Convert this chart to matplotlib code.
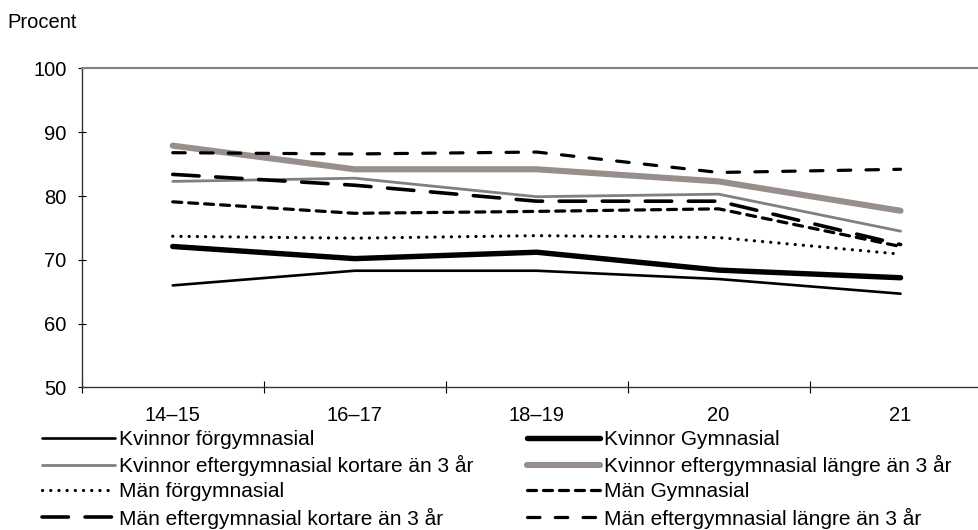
import numpy as np
import matplotlib
matplotlib.use("Agg")
import matplotlib.pyplot as plt
from matplotlib.ticker import FixedLocator

plt.rcParams['font.family'] = ['Liberation Sans', 'DejaVu Sans']
plt.rcParams['lines.scale_dashes'] = False

# Data
ages = ['14–15', '16–17', '18–19', '20', '21']
kvinnor_forgym = [66.0, 68.3, 68.3, 67.0, 64.7]
kvinnor_gym = [72.1, 70.2, 71.2, 68.4, 67.2]
kvinnor_eft_kort = [82.3, 82.8, 79.9, 80.3, 74.5]
kvinnor_eft_lang = [87.9, 84.2, 84.2, 82.3, 77.7]
man_forgym = [73.7, 73.4, 73.8, 73.5, 70.9]
man_gym = [79.1, 77.3, 77.6, 78.0, 72.1]
man_eft_kort = [83.4, 81.7, 79.2, 79.2, 72.4]
man_eft_lang = [86.8, 86.6, 86.9, 83.7, 84.2]

fs = 14.5

fig = plt.figure(figsize=(9.79, 5.30), dpi=100)
ax = fig.add_axes([0.0835, 0.2689, 0.9293, 0.6019])

x = np.arange(len(ages))

l_kf, = ax.plot(x, kvinnor_forgym, color='black', lw=1.9, solid_capstyle='round')
l_kg, = ax.plot(x, kvinnor_gym, color='black', lw=3.9, solid_capstyle='round')
l_kek, = ax.plot(x, kvinnor_eft_kort, color='#808080', lw=2.0, solid_capstyle='round')
l_kel, = ax.plot(x, kvinnor_eft_lang, color='#978f8b', lw=4.4, solid_capstyle='round')
l_mf, = ax.plot(x, man_forgym, color='black', lw=2.3, linestyle=(0, (0.1, 5.8)),
                dash_capstyle='round')
l_mg, = ax.plot(x, man_gym, color='black', lw=2.3, linestyle=(0, (6.5, 5.0)),
                dash_capstyle='round')
l_mek, = ax.plot(x, man_eft_kort, color='black', lw=2.6, linestyle=(0, (19, 12)),
                 dash_capstyle='round')
l_mel, = ax.plot(x, man_eft_lang, color='black', lw=2.3, linestyle=(0, (9, 11)),
                 dash_capstyle='round')

ax.set_xlim(-0.5, len(ages) - 0.5)
ax.set_ylim(50, 100)
ax.set_yticks(np.arange(50, 101, 10))
ax.set_xticks(x)
ax.set_xticklabels(ages)
ax.xaxis.set_minor_locator(FixedLocator(np.arange(-0.5, len(ages), 1)))
ax.tick_params(axis='x', which='major', length=0, pad=13, labelsize=fs)
ax.tick_params(axis='x', which='minor', direction='inout', length=8, width=0.8)
ax.tick_params(axis='y', direction='inout', length=6, width=0.8, pad=8, labelsize=fs)

for s in ['left', 'bottom']:
    ax.spines[s].set_color('#333333')
    ax.spines[s].set_linewidth(1.0)
ax.spines['top'].set_color('#808080')
ax.spines['top'].set_linewidth(1.5)
ax.spines['right'].set_visible(False)

fig.text(0.008, 0.957, 'Procent', fontsize=fs, ha='left', va='center')

leg_kw = dict(loc='upper left', frameon=False, fontsize=15, handlelength=3.5,
              handletextpad=0.2, labelspacing=0.3, borderpad=0, borderaxespad=0)
leg1 = fig.legend([l_kf, l_kek, l_mf, l_mek],
                  ['Kvinnor förgymnasial', 'Kvinnor eftergymnasial kortare än 3 år',
                   'Män förgymnasial', 'Män eftergymnasial kortare än 3 år'],
                  bbox_to_anchor=(0.043, 0.189), **leg_kw)
leg2 = fig.legend([l_kg, l_kel, l_mg, l_mel],
                  ['Kvinnor Gymnasial', 'Kvinnor eftergymnasial längre än 3 år',
                   'Män Gymnasial', 'Män eftergymnasial längre än 3 år'],
                  bbox_to_anchor=(0.538, 0.189), **leg_kw)

fig.savefig('out.png', dpi=100)
